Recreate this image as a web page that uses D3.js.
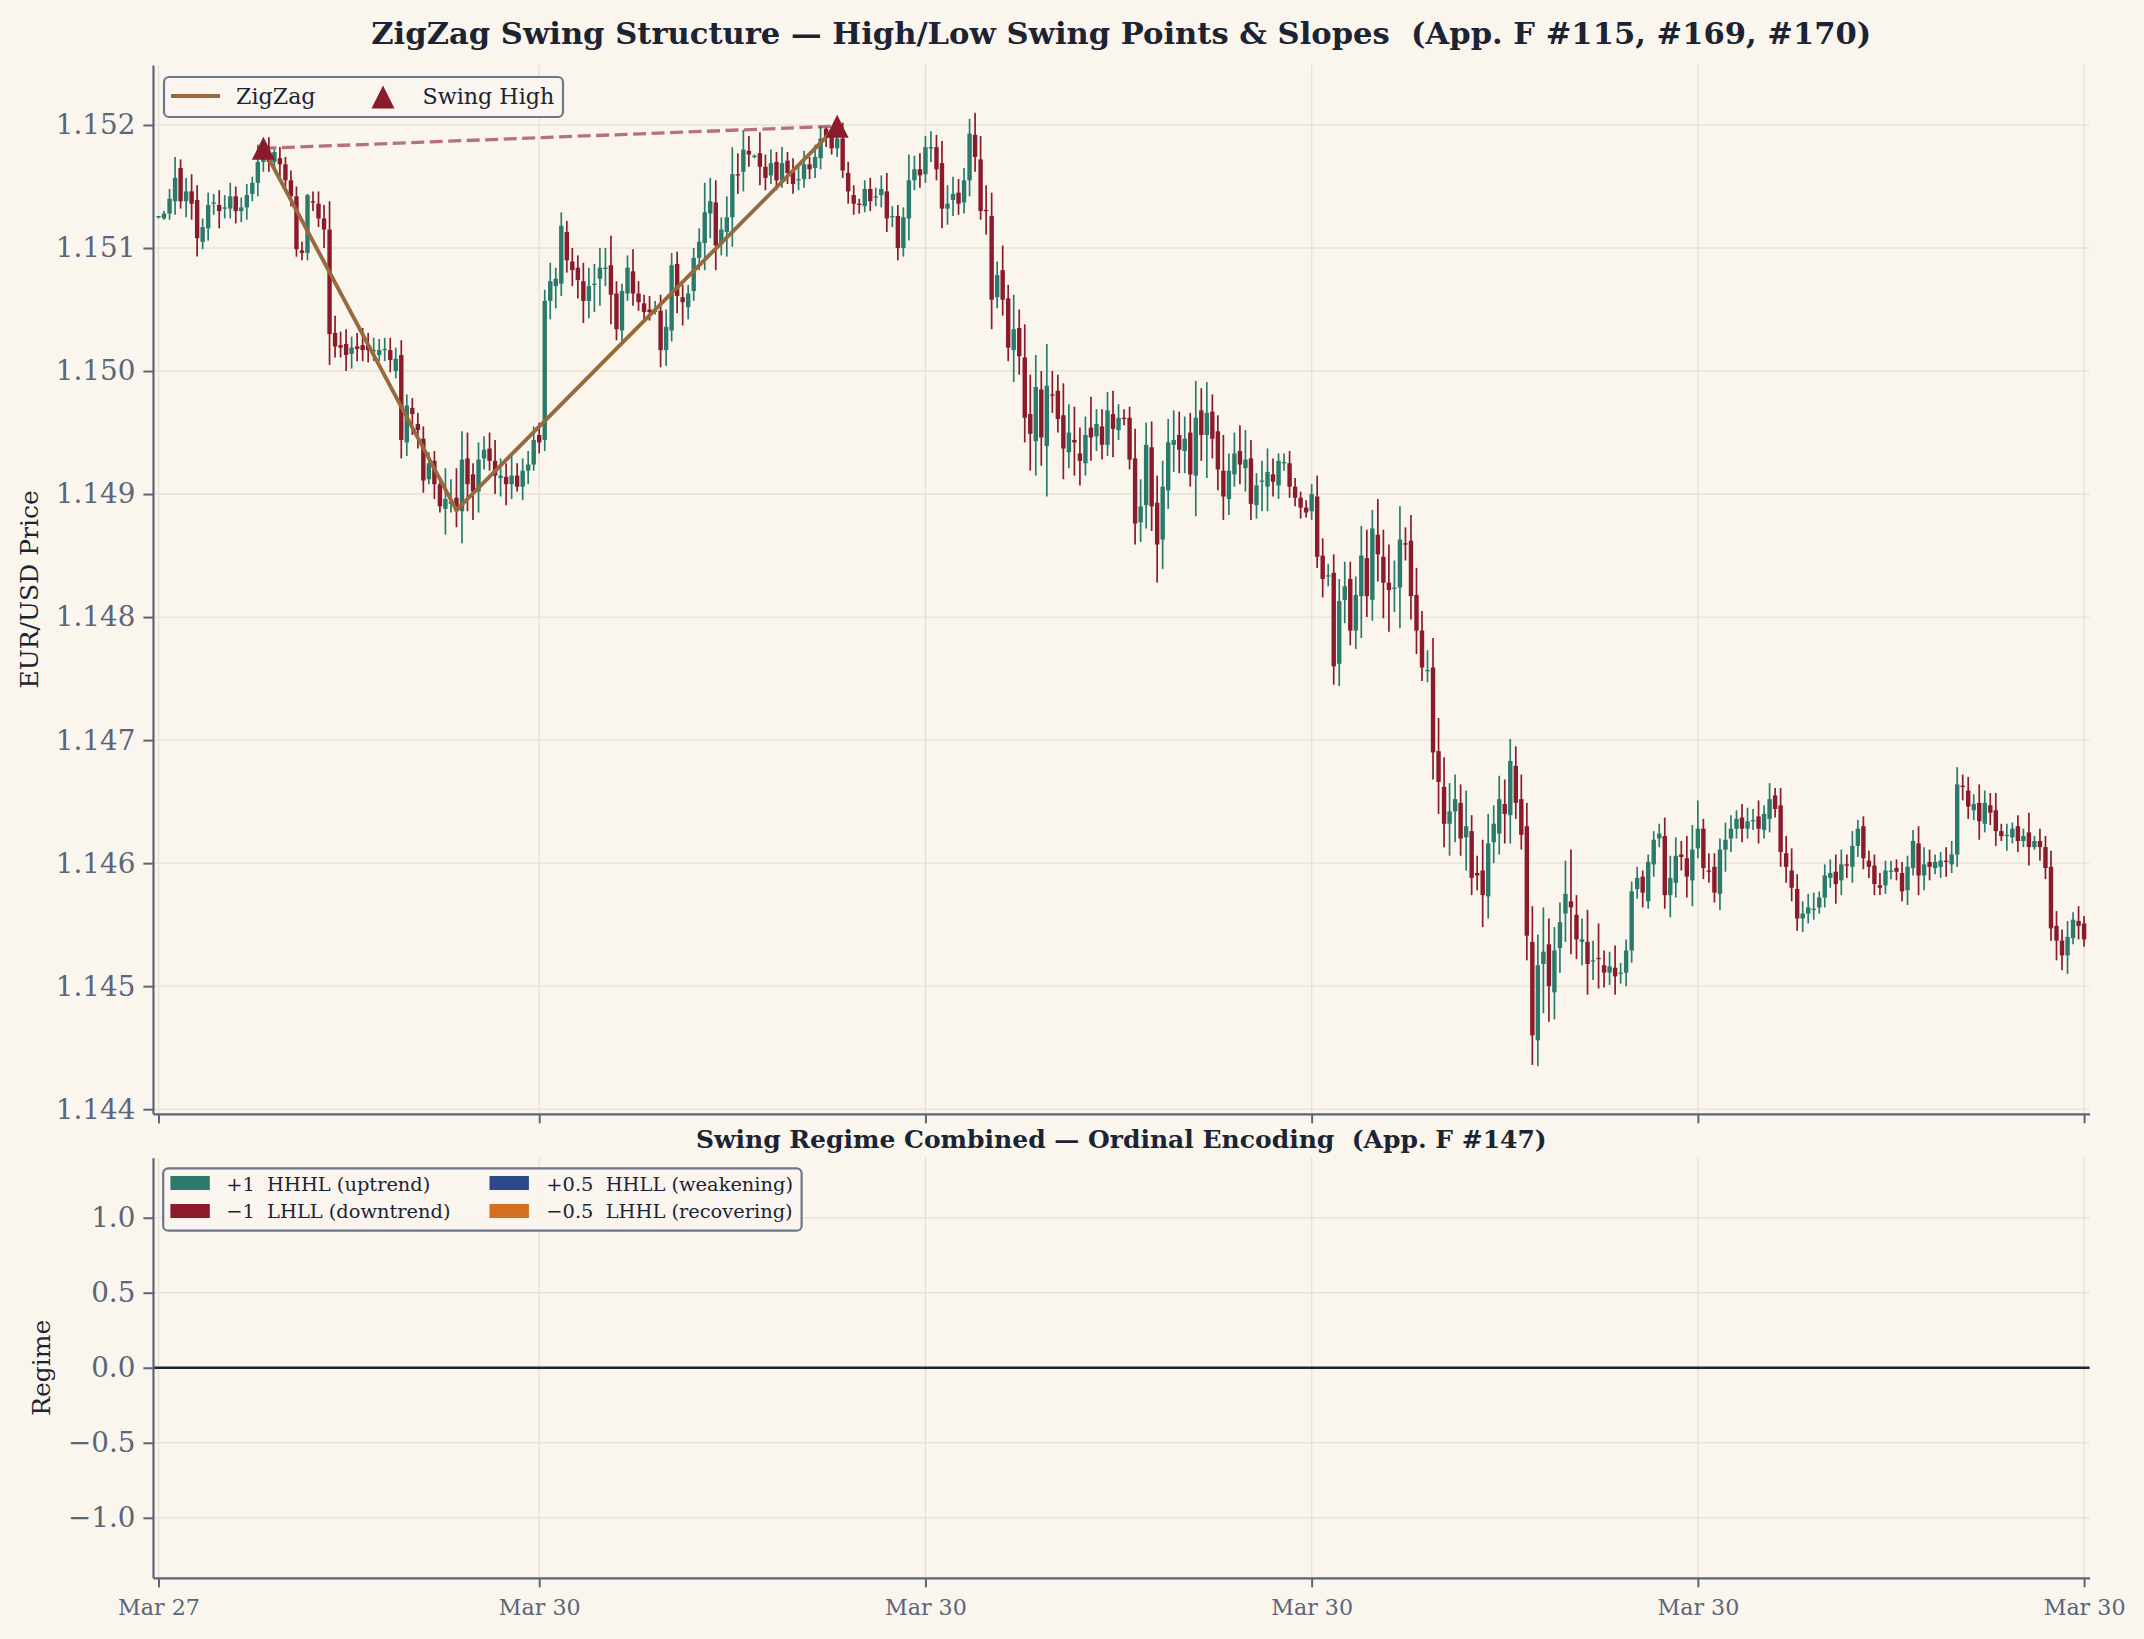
<!DOCTYPE html>
<html><head><meta charset="utf-8">
<script src="https://cdn.jsdelivr.net/npm/d3@7"></script>
<style>html,body{margin:0;padding:0;background:#faf6ee;}svg{display:block;}</style>
</head><body>
<script>
// ---- DATA (EUR/USD candles) ----
const openP = [
1.15125,1.15124,1.15128,1.15138,1.15165,1.15138,1.15146,1.15139,1.15105,1.15116,
1.15136,1.15135,1.15132,1.15132,1.15142,1.15130,1.15133,1.15144,1.15153,1.15170,
1.15174,1.15170,1.15173,1.15168,1.15155,1.15142,1.15098,1.15096,1.15138,1.15136,
1.15124,1.15115,1.15031,1.15021,1.15022,1.15014,1.15020,1.15021,1.15021,1.15016,
1.15013,1.15017,1.15017,1.15000,1.15013,1.14942,1.14970,1.14957,1.14945,1.14912,
1.14927,1.14908,1.14888,1.14892,1.14897,1.14886,1.14929,1.14916,1.14902,1.14929,
1.14937,1.14927,1.14913,1.14914,1.14908,1.14915,1.14906,1.14919,1.14924,1.14948,
1.14944,1.15057,1.15069,1.15071,1.15113,1.15089,1.15084,1.15073,1.15057,1.15070,
1.15075,1.15083,1.15086,1.15063,1.15033,1.15063,1.15081,1.15063,1.15055,1.15050,
1.15048,1.15049,1.15017,1.15033,1.15087,1.15060,1.15052,1.15065,1.15092,1.15104,
1.15128,1.15137,1.15103,1.15113,1.15125,1.15160,1.15162,1.15179,1.15174,1.15177,
1.15166,1.15159,1.15170,1.15155,1.15171,1.15162,1.15155,1.15156,1.15168,1.15165,
1.15173,1.15197,1.15190,1.15181,1.15189,1.15161,1.15143,1.15136,1.15134,1.15148,
1.15141,1.15143,1.15146,1.15125,1.15126,1.15100,1.15124,1.15155,1.15164,1.15160,
1.15181,1.15182,1.15169,1.15132,1.15139,1.15145,1.15137,1.15155,1.15192,1.15172,
1.15131,1.15126,1.15060,1.15082,1.15059,1.15017,1.15035,1.15011,1.14965,1.14943,
1.14985,1.14939,1.14981,1.14984,1.14964,1.14934,1.14944,1.14933,1.14925,1.14954,
1.14947,1.14955,1.14940,1.14965,1.14952,1.14962,1.14962,1.14929,1.14877,1.14891,
1.14938,1.14893,1.14863,1.14903,1.14940,1.14948,1.14935,1.14950,1.14915,1.14968,
1.14948,1.14967,1.14951,1.14919,1.14896,1.14916,1.14935,1.14921,1.14929,1.14891,
1.14910,1.14906,1.14916,1.14907,1.14925,1.14925,1.14906,1.14897,1.14889,1.14886,
1.14898,1.14850,1.14833,1.14836,1.14762,1.14814,1.14831,1.14789,1.14817,1.14848,
1.14814,1.14867,1.14849,1.14828,1.14823,1.14824,1.14860,1.14862,1.14818,1.14789,
1.14756,1.14759,1.14691,1.14662,1.14632,1.14642,1.14649,1.14621,1.14626,1.14592,
1.14594,1.14573,1.14617,1.14624,1.14648,1.14639,1.14679,1.14652,1.14630,1.14536,
1.14456,1.14518,1.14534,1.14495,1.14531,1.14559,1.14569,1.14558,1.14536,1.14536,
1.14520,1.14523,1.14517,1.14511,1.14515,1.14510,1.14511,1.14529,1.14579,1.14589,
1.14569,1.14599,1.14620,1.14622,1.14574,1.14584,1.14607,1.14604,1.14586,1.14612,
1.14628,1.14594,1.14597,1.14575,1.14611,1.14620,1.14628,1.14637,1.14628,1.14634,
1.14638,1.14627,1.14636,1.14655,1.14647,1.14608,1.14594,1.14579,1.14555,1.14559,
1.14562,1.14564,1.14572,1.14588,1.14593,1.14586,1.14599,1.14597,1.14614,1.14630,
1.14602,1.14598,1.14582,1.14582,1.14593,1.14596,1.14592,1.14578,1.14596,1.14616,
1.14590,1.14601,1.14596,1.14597,1.14602,1.14599,1.14607,1.14663,1.14659,1.14643,
1.14649,1.14632,1.14647,1.14643,1.14626,1.14622,1.14621,1.14630,1.14618,1.14625,
1.14613,1.14618,1.14613,1.14597,1.14549,1.14537,1.14525,1.14539,1.14553,1.14551];
const highP = [
1.15126,1.15130,1.15148,1.15174,1.15172,1.15157,1.15160,1.15151,1.15124,1.15145,
1.15144,1.15147,1.15143,1.15153,1.15150,1.15141,1.15152,1.15158,1.15184,1.15181,
1.15190,1.15180,1.15182,1.15174,1.15163,1.15150,1.15105,1.15144,1.15146,1.15146,
1.15135,1.15138,1.15045,1.15032,1.15034,1.15028,1.15031,1.15035,1.15031,1.15027,
1.15026,1.15027,1.15027,1.15019,1.15025,1.14981,1.14978,1.14966,1.14955,1.14934,
1.14935,1.14914,1.14921,1.14912,1.14921,1.14951,1.14950,1.14925,1.14942,1.14947,
1.14950,1.14944,1.14929,1.14925,1.14931,1.14925,1.14929,1.14935,1.14955,1.14958,
1.15066,1.15088,1.15084,1.15129,1.15122,1.15100,1.15094,1.15088,1.15084,1.15087,
1.15100,1.15100,1.15110,1.15073,1.15071,1.15094,1.15099,1.15073,1.15062,1.15061,
1.15057,1.15062,1.15050,1.15096,1.15097,1.15070,1.15070,1.15100,1.15116,1.15153,
1.15157,1.15155,1.15125,1.15142,1.15182,1.15177,1.15196,1.15191,1.15176,1.15194,
1.15176,1.15180,1.15178,1.15182,1.15178,1.15173,1.15166,1.15179,1.15174,1.15184,
1.15199,1.15198,1.15192,1.15199,1.15202,1.15170,1.15151,1.15140,1.15155,1.15157,
1.15149,1.15159,1.15161,1.15134,1.15135,1.15133,1.15176,1.15175,1.15177,1.15191,
1.15195,1.15192,1.15187,1.15151,1.15158,1.15156,1.15165,1.15205,1.15210,1.15191,
1.15151,1.15145,1.15089,1.15102,1.15070,1.15062,1.15050,1.15038,1.14997,1.15013,
1.15000,1.15022,1.15000,1.14997,1.14990,1.14973,1.14971,1.14954,1.14963,1.14979,
1.14969,1.14969,1.14983,1.14984,1.14973,1.14969,1.14971,1.14953,1.14912,1.14958,
1.14959,1.14915,1.14927,1.14961,1.14968,1.14967,1.14963,1.14966,1.14992,1.14986,
1.14991,1.14981,1.14964,1.14948,1.14933,1.14950,1.14956,1.14952,1.14944,1.14917,
1.14927,1.14937,1.14929,1.14933,1.14933,1.14935,1.14913,1.14902,1.14895,1.14908,
1.14915,1.14864,1.14843,1.14851,1.14831,1.14845,1.14845,1.14833,1.14874,1.14871,
1.14887,1.14896,1.14871,1.14859,1.14846,1.14890,1.14873,1.14883,1.14840,1.14805,
1.14773,1.14783,1.14718,1.14686,1.14665,1.14672,1.14664,1.14659,1.14639,1.14606,
1.14619,1.14640,1.14647,1.14671,1.14668,1.14701,1.14695,1.14672,1.14649,1.14565,
1.14542,1.14564,1.14555,1.14548,1.14568,1.14602,1.14611,1.14574,1.14555,1.14562,
1.14537,1.14551,1.14529,1.14528,1.14533,1.14519,1.14538,1.14585,1.14597,1.14594,
1.14607,1.14626,1.14632,1.14637,1.14606,1.14621,1.14618,1.14622,1.14631,1.14651,
1.14636,1.14608,1.14608,1.14620,1.14633,1.14639,1.14643,1.14648,1.14645,1.14644,
1.14651,1.14647,1.14665,1.14661,1.14661,1.14622,1.14612,1.14591,1.14569,1.14575,
1.14576,1.14577,1.14599,1.14603,1.14607,1.14611,1.14607,1.14626,1.14635,1.14638,
1.14610,1.14607,1.14592,1.14602,1.14602,1.14603,1.14601,1.14606,1.14627,1.14630,
1.14613,1.14611,1.14607,1.14609,1.14613,1.14618,1.14678,1.14672,1.14670,1.14656,
1.14664,1.14659,1.14657,1.14657,1.14632,1.14632,1.14633,1.14639,1.14628,1.14641,
1.14622,1.14628,1.14622,1.14610,1.14561,1.14546,1.14553,1.14560,1.14565,1.14557];
const lowP = [
1.15124,1.15123,1.15123,1.15127,1.15132,1.15125,1.15123,1.15093,1.15099,1.15106,
1.15127,1.15116,1.15124,1.15124,1.15120,1.15121,1.15123,1.15138,1.15142,1.15162,
1.15162,1.15166,1.15157,1.15149,1.15134,1.15093,1.15090,1.15090,1.15130,1.15117,
1.15100,1.15005,1.15011,1.15011,1.15000,1.15002,1.15008,1.15008,1.15007,1.15008,
1.15008,1.15008,1.14999,1.14994,1.14929,1.14931,1.14948,1.14937,1.14901,1.14908,
1.14896,1.14885,1.14867,1.14885,1.14873,1.14860,1.14886,1.14879,1.14885,1.14920,
1.14919,1.14900,1.14898,1.14891,1.14896,1.14902,1.14895,1.14908,1.14919,1.14933,
1.14935,1.15042,1.15051,1.15061,1.15080,1.15069,1.15059,1.15039,1.15043,1.15048,
1.15053,1.15069,1.15038,1.15025,1.15024,1.15057,1.15053,1.15049,1.15041,1.15041,
1.15046,1.15003,1.15004,1.15024,1.15047,1.15037,1.15042,1.15057,1.15082,1.15082,
1.15108,1.15082,1.15094,1.15093,1.15101,1.15144,1.15146,1.15166,1.15173,1.15151,
1.15147,1.15152,1.15147,1.15149,1.15152,1.15144,1.15147,1.15149,1.15156,1.15157,
1.15164,1.15182,1.15176,1.15174,1.15157,1.15136,1.15127,1.15128,1.15129,1.15130,
1.15134,1.15133,1.15113,1.15117,1.15090,1.15093,1.15106,1.15147,1.15149,1.15153,
1.15170,1.15155,1.15116,1.15119,1.15126,1.15127,1.15128,1.15142,1.15162,1.15123,
1.15111,1.15034,1.15051,1.15045,1.15008,1.14991,1.14997,1.14942,1.14919,1.14915,
1.14923,1.14898,1.14966,1.14950,1.14912,1.14921,1.14915,1.14907,1.14915,1.14927,
1.14935,1.14928,1.14931,1.14930,1.14944,1.14956,1.14920,1.14859,1.14861,1.14872,
1.14870,1.14828,1.14839,1.14888,1.14918,1.14917,1.14917,1.14906,1.14882,1.14927,
1.14913,1.14929,1.14903,1.14879,1.14883,1.14906,1.14908,1.14902,1.14879,1.14880,
1.14886,1.14886,1.14898,1.14896,1.14919,1.14897,1.14890,1.14880,1.14881,1.14879,
1.14840,1.14816,1.14825,1.14745,1.14744,1.14795,1.14777,1.14774,1.14783,1.14800,
1.14797,1.14829,1.14799,1.14788,1.14804,1.14791,1.14846,1.14798,1.14770,1.14748,
1.14747,1.14668,1.14640,1.14613,1.14606,1.14617,1.14606,1.14594,1.14574,1.14578,
1.14548,1.14555,1.14600,1.14607,1.14616,1.14616,1.14636,1.14611,1.14521,1.14436,
1.14435,1.14478,1.14471,1.14473,1.14511,1.14536,1.14526,1.14522,1.14517,1.14493,
1.14505,1.14498,1.14499,1.14501,1.14493,1.14502,1.14500,1.14519,1.14571,1.14564,
1.14563,1.14589,1.14613,1.14563,1.14556,1.14572,1.14594,1.14572,1.14565,1.14604,
1.14587,1.14584,1.14568,1.14562,1.14593,1.14609,1.14620,1.14617,1.14620,1.14627,
1.14616,1.14620,1.14625,1.14637,1.14597,1.14584,1.14569,1.14545,1.14544,1.14551,
1.14554,1.14559,1.14564,1.14580,1.14567,1.14574,1.14588,1.14584,1.14605,1.14595,
1.14588,1.14574,1.14574,1.14575,1.14587,1.14586,1.14569,1.14566,1.14590,1.14574,
1.14578,1.14586,1.14591,1.14588,1.14589,1.14592,1.14597,1.14651,1.14636,1.14635,
1.14619,1.14625,1.14631,1.14614,1.14618,1.14610,1.14616,1.14609,1.14613,1.14598,
1.14611,1.14602,1.14587,1.14537,1.14521,1.14513,1.14510,1.14534,1.14538,1.14532];
const closeP = [
1.15126,1.15128,1.15140,1.15157,1.15138,1.15146,1.15136,1.15108,1.15117,1.15135,
1.15137,1.15130,1.15133,1.15142,1.15130,1.15133,1.15143,1.15153,1.15170,1.15176,
1.15170,1.15178,1.15168,1.15155,1.15142,1.15099,1.15096,1.15143,1.15137,1.15124,
1.15115,1.15030,1.15020,1.15019,1.15013,1.15019,1.15018,1.15017,1.15017,1.15017,
1.15017,1.15018,1.15009,1.15010,1.14944,1.14972,1.14965,1.14952,1.14911,1.14925,
1.14908,1.14890,1.14896,1.14894,1.14886,1.14928,1.14908,1.14902,1.14928,1.14936,
1.14927,1.14915,1.14915,1.14908,1.14915,1.14906,1.14919,1.14924,1.14944,1.14942,
1.15057,1.15073,1.15075,1.15118,1.15090,1.15082,1.15074,1.15057,1.15069,1.15071,
1.15084,1.15084,1.15062,1.15034,1.15065,1.15084,1.15063,1.15056,1.15048,1.15048,
1.15049,1.15017,1.15036,1.15086,1.15061,1.15056,1.15063,1.15092,1.15105,1.15129,
1.15138,1.15102,1.15115,1.15125,1.15160,1.15159,1.15180,1.15176,1.15175,1.15166,
1.15157,1.15169,1.15155,1.15169,1.15161,1.15152,1.15156,1.15168,1.15164,1.15174,
1.15189,1.15190,1.15181,1.15189,1.15163,1.15146,1.15136,1.15135,1.15148,1.15138,
1.15142,1.15148,1.15124,1.15126,1.15100,1.15125,1.15155,1.15164,1.15159,1.15182,
1.15182,1.15164,1.15132,1.15136,1.15144,1.15136,1.15155,1.15193,1.15174,1.15130,
1.15130,1.15058,1.15078,1.15058,1.15019,1.15034,1.15012,1.14962,1.14949,1.14987,
1.14946,1.14988,1.14980,1.14961,1.14937,1.14950,1.14942,1.14927,1.14948,1.14946,
1.14957,1.14940,1.14968,1.14953,1.14962,1.14961,1.14928,1.14876,1.14890,1.14940,
1.14890,1.14859,1.14906,1.14942,1.14944,1.14936,1.14945,1.14916,1.14962,1.14948,
1.14966,1.14945,1.14920,1.14898,1.14919,1.14933,1.14924,1.14928,1.14892,1.14907,
1.14911,1.14918,1.14910,1.14927,1.14926,1.14906,1.14897,1.14889,1.14885,1.14900,
1.14849,1.14831,1.14834,1.14760,1.14813,1.14825,1.14789,1.14818,1.14850,1.14817,
1.14872,1.14851,1.14828,1.14822,1.14824,1.14863,1.14859,1.14817,1.14789,1.14759,
1.14757,1.14690,1.14666,1.14632,1.14642,1.14652,1.14620,1.14630,1.14588,1.14590,
1.14574,1.14616,1.14632,1.14652,1.14640,1.14683,1.14649,1.14623,1.14541,1.14460,
1.14517,1.14528,1.14500,1.14529,1.14552,1.14575,1.14564,1.14538,1.14538,1.14518,
1.14521,1.14522,1.14511,1.14516,1.14508,1.14511,1.14529,1.14577,1.14588,1.14576,
1.14601,1.14619,1.14624,1.14574,1.14588,1.14606,1.14605,1.14589,1.14611,1.14628,
1.14596,1.14593,1.14576,1.14611,1.14619,1.14628,1.14636,1.14628,1.14634,1.14635,
1.14628,1.14640,1.14652,1.14644,1.14609,1.14597,1.14580,1.14555,1.14559,1.14564,
1.14563,1.14572,1.14590,1.14592,1.14583,1.14599,1.14598,1.14614,1.14628,1.14604,
1.14597,1.14583,1.14580,1.14594,1.14594,1.14593,1.14577,1.14597,1.14618,1.14590,
1.14599,1.14597,1.14601,1.14602,1.14601,1.14607,1.14664,1.14662,1.14646,1.14648,
1.14634,1.14649,1.14641,1.14626,1.14622,1.14623,1.14628,1.14618,1.14622,1.14613,
1.14618,1.14613,1.14596,1.14547,1.14537,1.14525,1.14540,1.14554,1.14549,1.14538];

const zigzagIdx = [19, 54, 123];
const zigzagVal = [1.15181, 1.14887, 1.15199];
const swingHighIdx = [19, 123];
const swingHighVal = [1.15181, 1.15199];

const xTickIdx = [0, 69, 139, 209, 279, 349];
const xTickLabels = ["Mar 27", "Mar 30", "Mar 30", "Mar 30", "Mar 30", "Mar 30"];
const priceTicks = [1.144, 1.145, 1.146, 1.147, 1.148, 1.149, 1.150, 1.151, 1.152];
const regimeTicks = [-1.0, -0.5, 0.0, 0.5, 1.0];
const regimeLegendLabels = ["+1  HHHL (uptrend)", "\u22121  LHLL (downtrend)", "+0.5  HHLL (weakening)", "\u22120.5  LHHL (recovering)"];
const regimeValues = []; // no regime segments drawn

// ---- STYLE ----
const W = 2144, H = 1639;
const BG = "#faf6ee", GRID = "#e9e2d4", SPINE = "#5c6579", INK = "#1c2333";
const UP = "#2a7b6c", DOWN = "#8b1a2b", ZZ = "#97693b";
const FONT = "DejaVu Serif";
const N = openP.length;

const svg = d3.select("body").append("svg").attr("width", W).attr("height", H);
svg.append("rect").attr("width", W).attr("height", H).attr("fill", BG);

const L = 153, R = 2089.6;
const topY0 = 65, topY1 = 1113.8;
const botY0 = 1157.7, botY1 = 1577.8;

const x = d3.scaleLinear().domain([-1, N]).range([L, R]);
const lo = d3.min(lowP), hi = d3.max(highP), pad = (hi - lo) * 0.05;
const y = d3.scaleLinear().domain([lo - pad, hi + pad]).range([topY1, topY0]);
const yr = d3.scaleLinear().domain([-1.4, 1.4]).range([botY1, botY0]);

// grids
function grid(g, yScale, yTicks, y0, y1) {
  g.selectAll(".gh").data(yTicks).join("line")
    .attr("x1", L).attr("x2", R).attr("y1", d => yScale(d)).attr("y2", d => yScale(d))
    .attr("stroke", GRID).attr("stroke-width", 1.4);
  g.selectAll(".gv").data(xTickIdx).join("line")
    .attr("x1", d => x(d)).attr("x2", d => x(d)).attr("y1", y0).attr("y2", y1)
    .attr("stroke", GRID).attr("stroke-width", 1.4);
}
grid(svg.append("g"), y, priceTicks, topY0, topY1);
grid(svg.append("g"), yr, regimeTicks, botY0, botY1);

// zero line
svg.append("line").attr("x1", L).attr("x2", R).attr("y1", yr(0)).attr("y2", yr(0))
  .attr("stroke", INK).attr("stroke-width", 2.4);

// candles
const idx = d3.range(N);
const cg = svg.append("g");
cg.selectAll(".wick").data(idx).join("line")
  .attr("x1", i => x(i)).attr("x2", i => x(i))
  .attr("y1", i => y(highP[i])).attr("y2", i => y(lowP[i]))
  .attr("stroke", i => closeP[i] >= openP[i] ? UP : DOWN).attr("stroke-width", 1.7);
const bw = (x(1) - x(0)) * 0.8;
cg.selectAll(".body").data(idx).join("rect")
  .attr("x", i => x(i) - bw / 2).attr("width", bw)
  .attr("y", i => Math.min(y(openP[i]), y(closeP[i])))
  .attr("height", i => Math.max(1.3, Math.abs(y(openP[i]) - y(closeP[i]))))
  .attr("fill", i => closeP[i] >= openP[i] ? UP : DOWN);

// zigzag
svg.append("path")
  .attr("d", d3.line().x((d, k) => x(zigzagIdx[k])).y((d, k) => y(zigzagVal[k]))(zigzagIdx))
  .attr("fill", "none").attr("stroke", ZZ).attr("stroke-width", 3.9).attr("stroke-linejoin", "round");
// swing-high dashed connector
svg.append("path")
  .attr("d", d3.line().x((d, k) => x(swingHighIdx[k])).y((d, k) => y(swingHighVal[k]))(swingHighIdx))
  .attr("fill", "none").attr("stroke", DOWN).attr("stroke-opacity", 0.6)
  .attr("stroke-width", 3.3).attr("stroke-dasharray", "13,5.5");
// triangles
const tri = s => `M0,${-s/2} L${s/2},${s/2} L${-s/2},${s/2} Z`;
svg.selectAll(".tri").data(swingHighIdx).join("path")
  .attr("d", tri(23)).attr("transform", (d, k) => `translate(${x(d)},${y(swingHighVal[k])})`)
  .attr("fill", DOWN);

// axes
function styleAxis(g, fs) {
  g.select(".domain").attr("stroke", SPINE).attr("stroke-width", 2.2);
  g.selectAll(".tick line").attr("stroke", SPINE).attr("stroke-width", 2);
  g.selectAll(".tick text").attr("fill", SPINE).attr("font-family", FONT).attr("font-size", fs);
}
const ayT = svg.append("g").attr("transform", `translate(${L},0)`)
  .call(d3.axisLeft(y).tickValues(priceTicks).tickFormat(d3.format(".3f")).tickSize(9.6).tickPadding(8).tickSizeOuter(0));
styleAxis(ayT, 27.8);
const axT = svg.append("g").attr("transform", `translate(0,${topY1})`)
  .call(d3.axisBottom(x).tickValues(xTickIdx).tickFormat("").tickSize(9.6).tickSizeOuter(0));
styleAxis(axT, 22);
const ayB = svg.append("g").attr("transform", `translate(${L},0)`)
  .call(d3.axisLeft(yr).tickValues(regimeTicks).tickFormat(d => d3.format(".1f")(d).replace("-", "\u2212")).tickSize(9.6).tickPadding(8).tickSizeOuter(0));
styleAxis(ayB, 27.8);
const axB = svg.append("g").attr("transform", `translate(0,${botY1})`)
  .call(d3.axisBottom(x).tickValues(xTickIdx).tickFormat((d, k) => xTickLabels[k]).tickSize(9.6).tickPadding(12).tickSizeOuter(0));
styleAxis(axB, 22.2);

// titles
svg.append("text").attr("x", (L + R) / 2).attr("y", 43.5).attr("text-anchor", "middle")
  .attr("font-family", FONT).attr("font-weight", "bold").attr("font-size", 30.6).attr("fill", INK)
  .text("ZigZag Swing Structure \u2014 High/Low Swing Points & Slopes  (App. F #115, #169, #170)").style("white-space", "pre");
svg.append("text").attr("x", (L + R) / 2).attr("y", 1148).attr("text-anchor", "middle")
  .attr("font-family", FONT).attr("font-weight", "bold").attr("font-size", 25).attr("fill", INK)
  .text("Swing Regime Combined \u2014 Ordinal Encoding  (App. F #147)").style("white-space", "pre");

// y labels
svg.append("text").attr("transform", `translate(29,${(topY0 + topY1) / 2}) rotate(-90)`)
  .attr("text-anchor", "middle").attr("dy", "0.35em")
  .attr("font-family", FONT).attr("font-size", 25).attr("fill", INK).text("EUR/USD Price");
svg.append("text").attr("transform", `translate(41.6,${(botY0 + botY1) / 2}) rotate(-90)`)
  .attr("text-anchor", "middle").attr("dy", "0.35em")
  .attr("font-family", FONT).attr("font-size", 25).attr("fill", INK).text("Regime");

// top legend
const lg = svg.append("g");
lg.append("rect").attr("x", 164).attr("y", 77).attr("width", 399).attr("height", 40).attr("rx", 5)
  .attr("fill", BG).attr("fill-opacity", 0.9).attr("stroke", "#6e7689").attr("stroke-width", 2.2);
lg.append("line").attr("x1", 171).attr("x2", 220).attr("y1", 96).attr("y2", 96).attr("stroke", ZZ).attr("stroke-width", 3.9);
lg.append("text").attr("x", 236).attr("y", 104).attr("font-family", FONT).attr("font-size", 22.2).attr("fill", INK).text("ZigZag");
lg.append("path").attr("d", tri(23)).attr("transform", "translate(383,97)").attr("fill", DOWN);
lg.append("text").attr("x", 422.5).attr("y", 104).attr("font-family", FONT).attr("font-size", 22.2).attr("fill", INK).text("Swing High");

// bottom legend
const rg = svg.append("g");
rg.append("rect").attr("x", 163.2).attr("y", 1168.3).attr("width", 638.4).attr("height", 62.4).attr("rx", 5)
  .attr("fill", BG).attr("fill-opacity", 0.9).attr("stroke", "#6e7689").attr("stroke-width", 2.2);
const regColors = [UP, DOWN, "#2c4a8a", "#d2701f"];
const legPos = [[170.4, 1176, 226.2, 1190.7], [170.4, 1204, 226.2, 1218.3], [489.5, 1176, 546.3, 1190.7], [489.5, 1204, 546.3, 1218.3]];
regimeLegendLabels.forEach((t, k) => {
  const p = legPos[k];
  rg.append("rect").attr("x", p[0]).attr("y", p[1]).attr("width", 39.4).attr("height", 14).attr("fill", regColors[k]);
  rg.append("text").attr("x", p[2]).attr("y", p[3]).attr("font-family", FONT).attr("font-size", 19.4)
    .attr("fill", INK).style("white-space", "pre").text(t);
});
</script>
</body></html>
